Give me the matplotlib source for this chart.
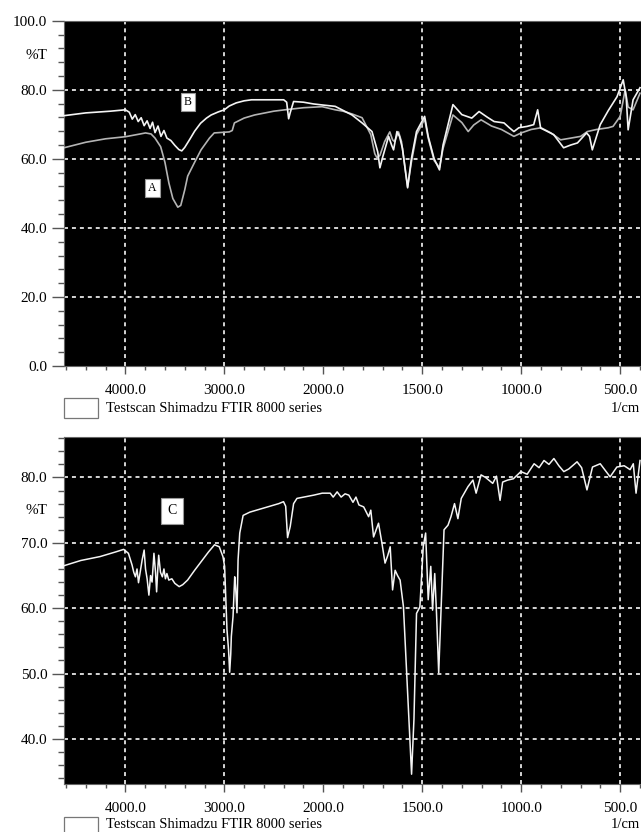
import numpy as np
import matplotlib
matplotlib.use("Agg")
import matplotlib.pyplot as plt
from matplotlib.patches import Rectangle
import matplotlib.transforms as mtransforms

plt.rcParams['font.family'] = ['Liberation Serif', 'DejaVu Serif']

# spectrum A (gray) and B (white), top panel
wn_a = [4620, 4400, 4200, 4000, 3850, 3796, 3740, 3700, 3643, 3600, 3560, 3520, 3470, 3440,
        3400, 3370, 3300, 3235, 3150, 3102, 2950, 2920, 2898, 2800, 2694, 2500, 2388, 2200,
        2011, 1940, 1900, 1855, 1804, 1760, 1740, 1729, 1714, 1690, 1664, 1650, 1640, 1620,
        1605, 1574, 1555, 1529, 1488, 1470, 1440, 1413, 1395, 1345, 1300, 1268, 1240, 1203,
        1150, 1100, 1037, 1000, 950, 900, 850, 801, 750, 700, 666, 620, 560, 536, 500, 475,
        460, 435, 400]
t_a = [63.2, 64.8, 65.8, 66.4, 67.2, 67.5, 67.2, 66.0, 63.5, 59.0, 53.0, 48.5, 46.0, 46.5,
       51.0, 55.0, 59.0, 62.6, 66.0, 67.5, 67.8, 68.2, 70.4, 71.8, 72.7, 73.8, 74.2, 74.8,
       75.1, 74.2, 73.8, 73.0, 71.9, 67.0, 61.5, 60.3, 61.0, 65.0, 67.8, 65.5, 65.0, 67.8,
       65.0, 51.9, 59.0, 67.0, 71.5, 66.0, 59.5, 57.5, 63.0, 72.7, 70.5, 67.9, 69.8, 71.3,
       69.5, 68.5, 66.5, 67.5, 68.5, 69.0, 67.5, 65.5, 66.0, 66.5, 67.9, 68.5, 69.0, 69.4,
       72.3, 80.0, 75.0, 74.2, 79.0]

wn_b = [4620, 4400, 4150, 4000, 3960, 3930, 3900, 3870, 3840, 3810, 3780, 3750, 3725, 3700,
        3670, 3640, 3610, 3580, 3540, 3500, 3460, 3430, 3400, 3350, 3300, 3240, 3180, 3133,
        3060, 3000, 2950, 2880, 2800, 2725, 2400, 2370, 2350, 2335, 2300, 2200, 2100, 2011,
        1940, 1855, 1804, 1754, 1725, 1714, 1700, 1670, 1655, 1645, 1628, 1615, 1600, 1574,
        1555, 1529, 1488, 1470, 1440, 1413, 1395, 1345, 1300, 1250, 1213, 1170, 1137, 1087,
        1060, 1037, 1012, 970, 937, 917, 902, 870, 836, 786, 750, 716, 670, 655, 641, 601,
        560, 516, 485, 470, 460, 435, 400]
t_b = [72.5, 73.3, 73.8, 74.2, 73.5, 71.5, 72.8, 70.8, 71.9, 69.6, 71.0, 68.8, 70.6, 67.6,
       69.5, 66.5, 68.2, 66.0, 65.3, 63.9, 62.7, 62.3, 63.3, 65.6, 68.0, 70.3, 71.8, 72.7,
       73.6, 74.2, 75.3, 76.2, 76.8, 77.1, 77.1, 76.4, 71.6, 73.3, 76.6, 76.4, 75.9, 75.6,
       75.2, 72.7, 70.4, 67.9, 62.0, 57.4, 60.5, 66.5, 64.0, 62.6, 67.9, 66.5, 63.0, 51.6,
       60.0, 67.9, 72.3, 66.5, 60.0, 56.8, 64.0, 75.7, 72.8, 71.8, 73.7, 72.0, 70.8, 70.4,
       69.0, 67.9, 69.0, 69.4, 69.9, 74.2, 68.9, 68.0, 67.0, 63.2, 64.0, 64.6, 67.5, 66.5,
       62.6, 69.9, 74.0, 78.0, 82.9, 78.0, 68.4, 77.1, 80.6]

# spectrum C, bottom panel
wn_c = [4620, 4450, 4255, 4100, 4017, 3969, 3950, 3932, 3915, 3898, 3882, 3867, 3850, 3830,
        3810, 3796, 3780, 3762, 3745, 3730, 3711, 3695, 3684, 3672, 3663, 3645, 3626, 3610,
        3595, 3580, 3561, 3530, 3500, 3456, 3420, 3371, 3300, 3235, 3160, 3099, 3051, 3014,
        2997, 2973, 2957, 2946, 2935, 2929, 2912, 2895, 2885, 2872, 2861, 2844, 2810, 2742,
        2606, 2450, 2402, 2380, 2361, 2334, 2300, 2266, 2096, 2011, 1965, 1950, 1930, 1910,
        1890, 1871, 1850, 1835, 1820, 1796, 1771, 1760, 1746, 1721, 1704, 1688, 1675, 1662,
        1650, 1637, 1625, 1612, 1595, 1579, 1567, 1554, 1542, 1529, 1512, 1495, 1483, 1470,
        1457, 1448, 1437, 1428, 1417, 1405, 1390, 1370, 1355, 1337, 1320, 1303, 1269, 1244,
        1228, 1203, 1180, 1144, 1125, 1107, 1094, 1069, 1040, 1002, 970, 935, 910, 885, 860,
        835, 810, 785, 760, 718, 695, 668, 640, 601, 551, 517, 480, 450, 434, 420, 400]
t_c = [66.5, 67.3, 67.9, 68.6, 69.0, 68.4, 67.5, 66.6, 65.5, 64.8, 66.0, 63.9, 65.5, 67.4,
       68.9, 66.0, 64.5, 62.0, 65.0, 64.0, 68.4, 65.5, 62.5, 66.0, 68.1, 65.5, 64.8, 66.0,
       64.5, 65.3, 64.3, 64.5, 63.8, 63.3, 63.6, 64.3, 65.8, 67.1, 68.6, 69.7, 69.4, 67.9,
       66.4, 56.7, 53.6, 50.2, 53.0, 55.7, 58.7, 64.8, 63.0, 59.3, 67.4, 71.5, 74.2, 74.7,
       75.3, 76.0, 76.3, 75.6, 70.8, 72.5, 76.0, 76.8, 77.3, 77.6, 77.6, 77.0, 77.8, 77.0,
       77.5, 77.3, 76.2, 77.0, 75.8, 75.5, 74.0, 75.0, 70.9, 73.0, 70.0, 66.9, 68.0, 69.4,
       62.8, 65.8, 65.0, 64.3, 60.2, 50.1, 42.5, 34.6, 43.0, 59.2, 60.2, 69.4, 71.5, 61.3,
       66.4, 59.7, 65.3, 59.2, 50.1, 60.0, 72.0, 72.7, 74.0, 76.0, 73.7, 76.8, 78.6, 79.6,
       77.6, 80.4, 80.0, 79.1, 80.2, 76.5, 79.3, 79.6, 79.8, 80.9, 80.5, 82.1, 81.5, 82.6, 82.0,
       82.9, 81.8, 80.9, 81.3, 82.4, 81.5, 78.1, 81.6, 82.1, 80.1, 81.6, 81.8, 81.2, 82.1, 77.6,
       82.6]

x_major = [4000, 3000, 2000, 1500, 1000, 500]
x_grid = [4000, 3000, 1500, 1000, 500]


# Shimadzu style axis: scale doubles below 2000 1/cm
def fwd(x):
    x = np.asarray(x, dtype=float)
    return np.where(x >= 2000, x - 2000, 2 * (x - 2000))


def inv(y):
    y = np.asarray(y, dtype=float)
    return np.where(y >= 0, y + 2000, y / 2 + 2000)


fig = plt.figure(figsize=(6.41, 8.32), dpi=100)
ax1 = fig.add_axes([0.0998, 0.5601, 0.9002, 0.4150])
ax2 = fig.add_axes([0.0998, 0.0577, 0.9002, 0.4171])


def style(ax, ylim, y_major, y_minor, y_grid, pct_y):
    ax.set_facecolor('black')
    ax.set_xscale('function', functions=(fwd, inv))
    ax.set_xlim(4620, 395)
    ax.set_ylim(*ylim)
    ax.set_xticks(x_major)
    ax.set_xticklabels(['%.1f' % v for v in x_major])
    ax.set_xticks(list(np.arange(4600, 2000, -200)) + list(np.arange(2000, 399, -100)), minor=True)
    ax.set_yticks(y_major)
    ax.set_yticklabels(['%.1f' % v for v in y_major])
    ax.set_yticks(y_minor, minor=True)
    ax.tick_params(axis='x', which='major', direction='out', length=6, width=1, pad=7,
                   labelsize=11, color='#555555')
    ax.tick_params(axis='x', which='minor', direction='out', length=3, width=1, color='#555555')
    ax.tick_params(axis='y', which='major', direction='out', length=8.5, width=1, pad=3.5,
                   labelsize=11, color='#555555')
    ax.tick_params(axis='y', which='minor', direction='out', length=4, width=1, color='#555555')
    for s in ax.spines.values():
        s.set_color('#666666')
    for gx in x_grid:
        ax.axvline(gx, color='#e6e6e6', lw=1.3, ls=(0, (2.2, 2.2)), zorder=1)
    for gy in y_grid:
        ax.axhline(gy, color='#e6e6e6', lw=1.3, ls=(0, (2.2, 2.2)), zorder=1)
    trans = mtransforms.blended_transform_factory(ax.transAxes, ax.transData)
    ax.text(-0.048, pct_y, '%T', transform=trans, ha='center', va='center', fontsize=11)


style(ax1, (0, 100), [0, 20, 40, 60, 80, 100], np.arange(0, 101, 4), [20, 40, 60, 80], 90)
style(ax2, (33.1, 86.2), [40, 50, 60, 70, 80], np.arange(34, 87, 2), [40, 50, 60, 70, 80], 75)

ax1.plot(wn_a, t_a, color='#b4b4b4', lw=1.2, zorder=3)
ax1.plot(wn_b, t_b, color='#f4f4f4', lw=1.2, zorder=4)
ax2.plot(wn_c, t_c, color='#f4f4f4', lw=1.1, zorder=3)

box = dict(boxstyle='square,pad=0.25', facecolor='white', edgecolor='#999999', lw=0.8)
ax1.text(3368, 76.5, 'B', ha='center', va='center', fontsize=8.5, bbox=box, zorder=5)
ax1.text(3725, 51.6, 'A', ha='center', va='center', fontsize=8.5, bbox=box, zorder=5)
box_c = dict(boxstyle='square,pad=0.45', facecolor='white', edgecolor='#999999', lw=0.8)
ax2.text(3530, 74.9, 'C', ha='center', va='center', fontsize=10, bbox=box_c, zorder=5)

# footer: legend swatch, instrument name, unit
for ybox, ytxt in [(0.4976, 0.5096), (-0.0060, 0.0096)]:
    fig.patches.append(Rectangle((0.0998, ybox), 0.053, 0.024, transform=fig.transFigure,
                                 facecolor='white', edgecolor='#777777', lw=0.9))
    fig.text(0.165, ytxt, 'Testscan Shimadzu FTIR 8000 series', ha='left', va='center',
             fontsize=10.5)
    fig.text(0.998, ytxt, '1/cm', ha='right', va='center', fontsize=10.5)

fig.savefig('out.png', dpi=100, facecolor='white')
